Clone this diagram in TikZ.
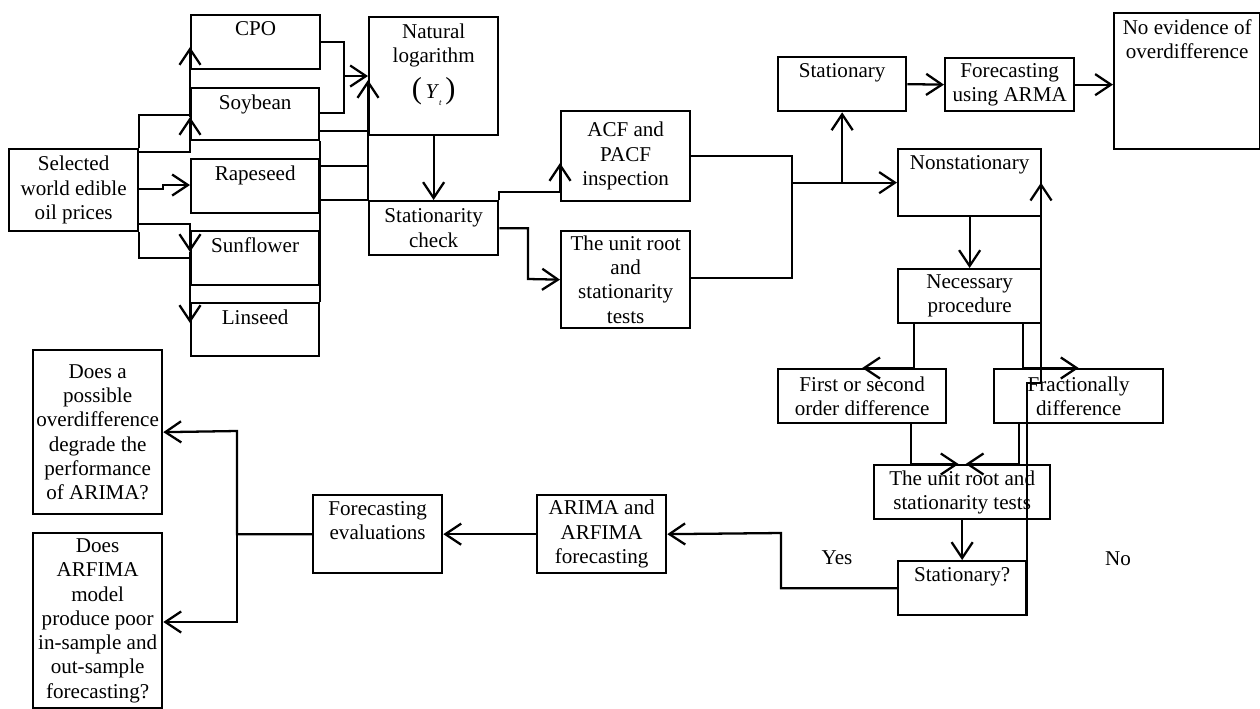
\documentclass[tikz,border=0pt]{standalone}
\usepackage{fontspec}
\setmainfont{Liberation Serif}
\usepackage{tikz}
\usetikzlibrary{arrows.meta,positioning,calc}

\begin{document}
\begin{tikzpicture}[
    x=0.02cm, y=-0.02cm,
    every node/.style={font=\fontsize{12}{13.8}\selectfont},
    box/.style={draw, line width=1.3pt, anchor=north west, align=center, inner sep=1pt},
    sz/.style 2 args={minimum width=#1*0.02cm, minimum height=#2*0.02cm},
    toptext/.style={label={[anchor=north, align=center, inner sep=4pt]north:{#1}}},
    conn/.style={line width=1.3pt},
    arrow/.style={->, >={Straight Barb[length=9pt, width=12pt]}, line width=1.3pt}
]
\useasboundingbox (0,0) rectangle (1260,708);

% oil price series
\node[box, sz={129}{82}] (sel) at (8,148) {Selected\\world edible\\oil prices};
\node[box, sz={129}{54}, toptext=CPO] (cpo) at (190,14) {};
\node[box, sz={128}{52}, toptext=Soybean] (soy) at (190,87) {};
\node[box, sz={128}{54}, toptext=Rapeseed] (rape) at (190,158) {};
\node[box, sz={128}{54}, toptext=Sunflower] (sun) at (190,230) {};
\node[box, sz={128}{53}, toptext=Linseed] (lin) at (190,302) {};

\node[box, sz={129}{118}, toptext={Natural\\logarithm\\[5pt]{\LARGE(}\,\textit{Y}\raisebox{-4pt}{\tiny\textit{t}}\,{\LARGE)}}] (ln) at (368,16) {};
\node[box, sz={129}{54}] (chk) at (368,200) {Stationarity\\check};
\node[box, sz={129}{90}] (acf) at (560,110) {ACF and\\PACF\\inspection};
\node[box, sz={129}{97}, inner sep=0pt] (urt) at (560,230) {The unit root\\and\\stationarity\\tests};

\node[box, sz={128}{54}, toptext=Stationary] (stat) at (777,56) {};
\node[box, sz={129}{53}] (farma) at (944,57) {Forecasting\\using ARMA};
\node[box, sz={146}{136}, toptext={No evidence of\\overdifference}] (noev) at (1113,12) {};
\node[box, sz={143}{67}, toptext=Nonstationary] (nonst) at (897,148) {};
\node[box, sz={143}{54}] (nec) at (897,268) {Necessary\\procedure};
\node[box, sz={168}{54}] (fod) at (777,368) {First or second\\order difference};
\node[box, sz={169}{54}] (frac) at (993,368) {Fractionally\\difference};
\node[box, sz={176}{54}] (urt2) at (873,464) {The unit root and\\stationarity tests};
\node[box, sz={128}{54}, toptext=Stationary?] (statq) at (897,560) {};

\node[box, sz={129}{78}] (arima) at (536,494) {ARIMA and\\ARFIMA\\forecasting};
\node[box, sz={129}{78}, toptext={Forecasting\\evaluations}] (feval) at (312,494) {};
\node[box, sz={129}{164}] (q1) at (32,349) {Does a\\possible\\overdifference\\degrade the\\performance\\of ARIMA?};
\node[box, sz={129}{175}] (q2) at (32,532) {Does\\ARFIMA\\model\\produce poor\\in-sample and\\out-sample\\forecasting?};

\node (yes) at (837,558) {Yes};
\node (no) at (1118,559) {No};

% selected series to the five oils
\draw[conn] (sel.north east) |- (soy.west |- 0,115);
\draw[arrow] (sel.east |- 0,152) -| (soy.west |- 0,117);
\draw[arrow] (soy.west |- 0,117) -- (cpo.west |- 0,47);
\draw[arrow] (sel.east |- 0,189) -- (163,189) -- (163,185) -- (rape.west |- 0,185);
\draw[conn] (sel.south east) |- (sun.west |- 0,258);
\draw[arrow] (sel.east |- 0,224) -| (sun.west |- 0,252);
\draw[arrow] (sun.west |- 0,252) -- (lin.west |- 0,323);
\draw[conn] (soy.south east) -- (lin.north east);

% oils to logarithm
\coordinate (jcpo) at (344,76);
\draw[conn] (cpo.east) -| (jcpo) |- (soy.east |- 0,113);
\draw[arrow] (jcpo) -- (ln.west |- jcpo);
\draw[conn] (soy.east |- 0,131) -- (ln.west |- 0,131);
\draw[conn] (rape.east |- 0,166) -- (ln.west |- 0,166);
\draw[conn] (rape.east |- chk.north west) -- (chk.north west);
\draw[arrow] (chk.north west) -- (ln.west |- 0,80);
\draw[arrow] (ln.south) -- (chk.north);

% stationarity check
\draw[arrow] (chk.north east) |- (acf.west |- 0,192) -- (acf.west |- 0,163);
\draw[arrow] (chk.east) -| (528,279) -- (urt.west);
\coordinate (jv) at (792,278);
\draw[conn] (acf.east) -| (jv) -- (urt.east |- jv);
\draw[arrow] (nonst.west -| jv) -- (nonst.west);
\draw[arrow] (stat.south |- nonst.west) -- (stat.south);
\draw[arrow] (stat.east) -- (farma.west);
\draw[arrow] (farma.east) -- (noev.west |- farma.east);

% nonstationary branch
\draw[arrow] (nonst.south) -- (nec.north);
\draw[arrow] (nec.south -| 914,0) |- (fod.north);
\draw[arrow] (nec.south -| 1023,0) |- (frac.north);
\draw[arrow] (fod.south -| 911,0) |- ([xshift=-2pt]urt2.north);
\draw[arrow] (frac.south -| 1019,0) |- ([xshift=2pt]urt2.north);
\draw[arrow] (urt2.south) -- (statq.north);
\draw[arrow] (statq.south east) |- (1041,383) -- (nonst.east -| 1041,0);   % no
\draw[arrow] (statq.west) -| (781,533) -- (arima.east);                  % yes

% forecasting
\draw[arrow] (arima.west) -- (feval.east);
\draw[arrow] (feval.west) -| (237,431) -- (q1.east);
\draw[arrow] (feval.west) -| (237,622) -- (q2.east |- 0,622);
\end{tikzpicture}
\end{document}
